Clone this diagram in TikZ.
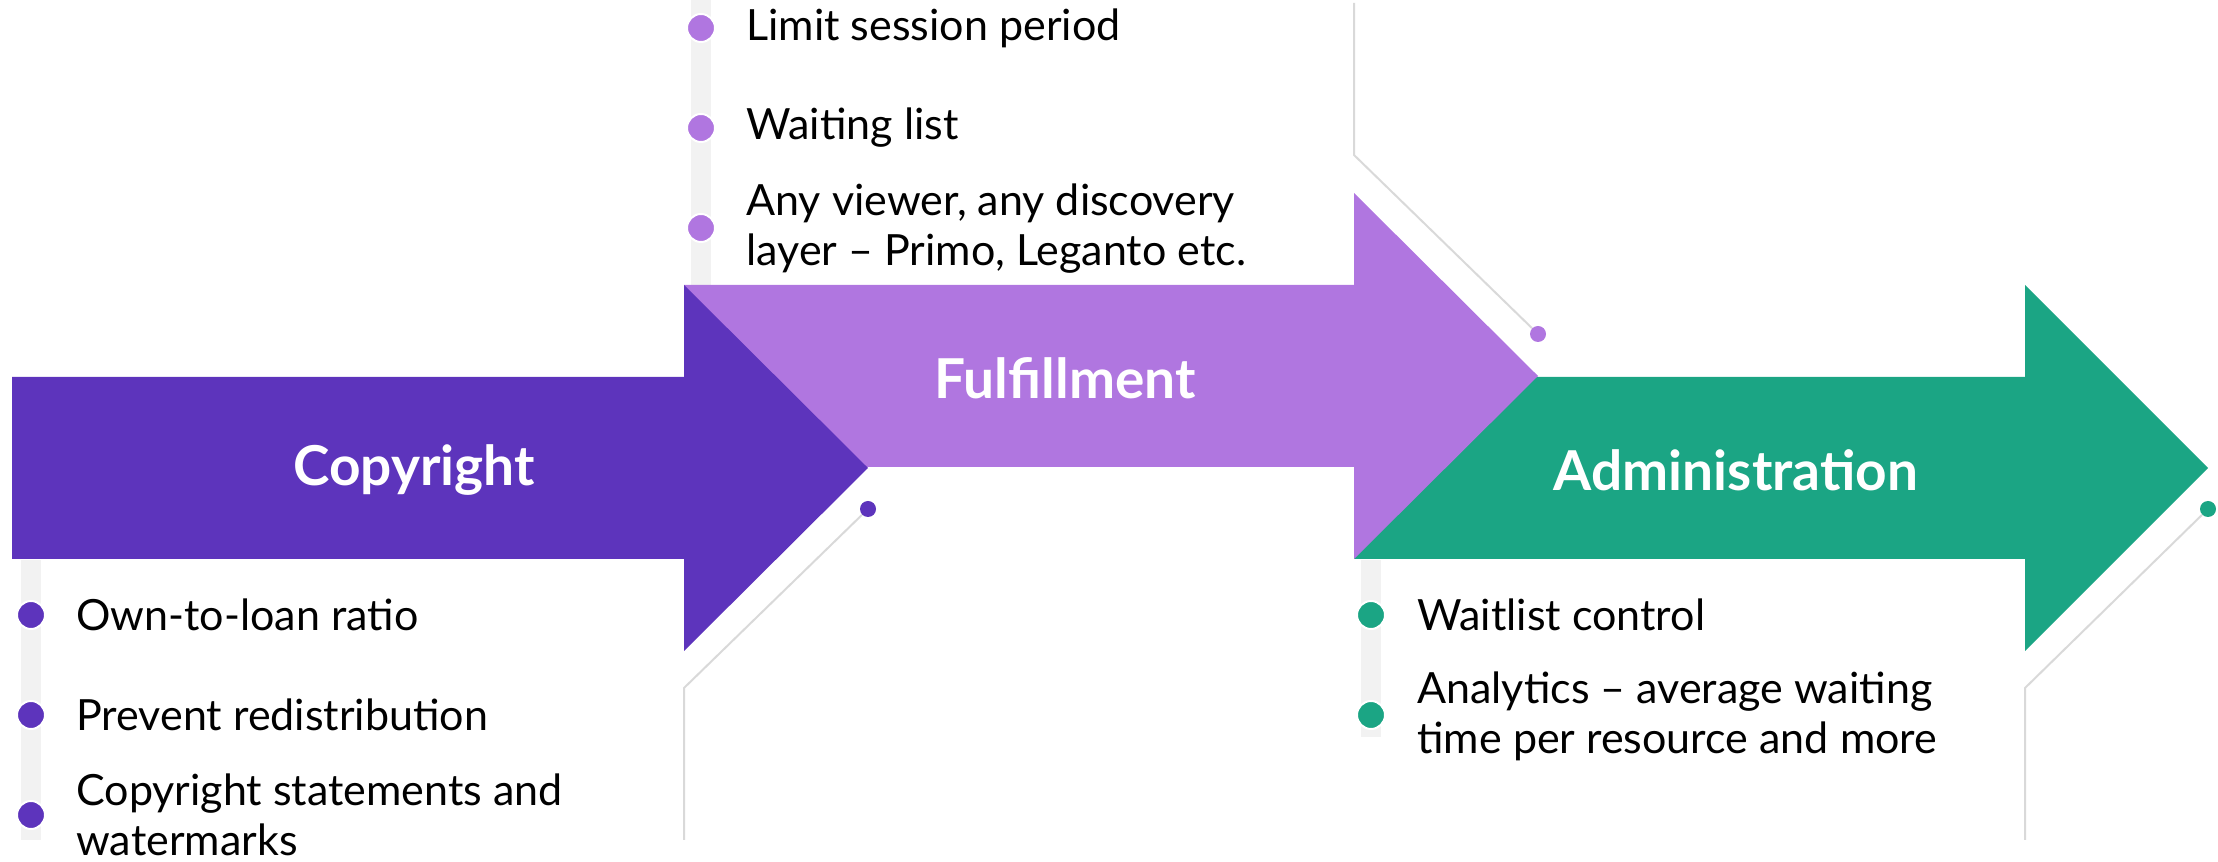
\documentclass[tikz,border=0pt]{standalone}
\usepackage{fontspec}
\setmainfont{Lato}
\usepackage{tikz}
\usetikzlibrary{positioning, calc}

\definecolor{copyc}{RGB}{93,52,188}
\definecolor{fulfc}{RGB}{176,118,224}
\definecolor{adminc}{RGB}{27,165,132}
\definecolor{linec}{RGB}{217,217,217}
\definecolor{barc}{RGB}{242,242,242}

\tikzset{
  title/.style={text=white, font=\bfseries\fontsize{27.5}{32}\selectfont},
  point/.style={anchor=west, inner sep=0pt, align=left, font=\fontsize{21.5}{25}\selectfont},
  bullet/.style={circle, fill=#1, draw=white, line width=1pt, minimum size=14pt, inner sep=0pt},
  tipdot/.style={circle, fill=#1, minimum size=8pt, inner sep=0pt},
  guide/.style={draw=linec, line width=1pt}
}

\begin{document}
\begin{tikzpicture}[x=0.5pt, y=0.5pt]
\useasboundingbox (0,0) rectangle (2218,862);

% Timeline bars
\fill[barc] (21,302) rectangle (41,22);
\fill[barc] (691,577) rectangle (711,862);
\fill[barc] (1361,302) rectangle (1381,125);

% Arrows (last one first)
\fill[adminc] (1354,485) -- (2025,485) -- (2025,577) -- (2208,394) -- (2025,211) -- (2025,303) -- (1354,303) -- cycle;
\fill[fulfc] (684,577) -- (1354,577) -- (1354,669) -- (1538,486) -- (1354,303) -- (1354,395) -- (684,395) -- cycle;
\fill[copyc] (12,485) -- (684,485) -- (684,577) -- (868,394) -- (684,211) -- (684,303) -- (12,303) -- cycle;

\node[title] (copy) at (414,392) {Copyright};
\node[title] (fulf) at (1065,484) {Fulfillment};
\node[title] (admin) at (1736,392) {Administration};

% Guide lines with end dots
\node[tipdot=copyc] (cdot) at (868,353) {};
\coordinate (cbend) at (684,174);
\coordinate (cend) at (684,22);
\draw[guide] (cdot) -- (cbend) -- (cend);

\node[tipdot=fulfc] (fdot) at (1538,528) {};
\coordinate (fbend) at (1354,707);
\coordinate (fend) at (1354,859);
\draw[guide] (fdot) -- (fbend) -- (fend);

\node[tipdot=adminc] (adot) at (2208,353) {};
\coordinate (abend) at (2025,174);
\coordinate (aend) at (2025,22);
\draw[guide] (adot) -- (abend) -- (aend);

% Copyright points
\node[bullet=copyc] (c1) at (31,247) {};
\node[bullet=copyc] (c2) at (31,147) {};
\node[bullet=copyc] (c3) at (31,47) {};
\node[point] (ct1) at (76,247) {Own-to-loan ratio};
\node[point] (ct2) at (76,147) {Prevent redistribution};
\node[point] (ct3) at (76,47) {Copyright statements and\\watermarks};

% Fulfillment points
\node[bullet=fulfc] (f1) at (701,834) {};
\node[bullet=fulfc] (f2) at (701,734) {};
\node[bullet=fulfc] (f3) at (701,634) {};
\node[point] (ft1) at (746,834) {Limit session period};
\node[point] (ft2) at (746,734) {Waiting list};
\node[point] (ft3) at (746,633) {Any viewer, any discovery\\layer -- Primo, Leganto etc.};

% Administration points
\node[bullet=adminc] (a1) at (1371,247) {};
\node[bullet=adminc] (a2) at (1371,147) {};
\node[point] (at1) at (1417,247) {Waitlist control};
\node[point] (at2) at (1417,146) {Analytics -- average waiting\\time per resource and more};
\end{tikzpicture}
\end{document}
